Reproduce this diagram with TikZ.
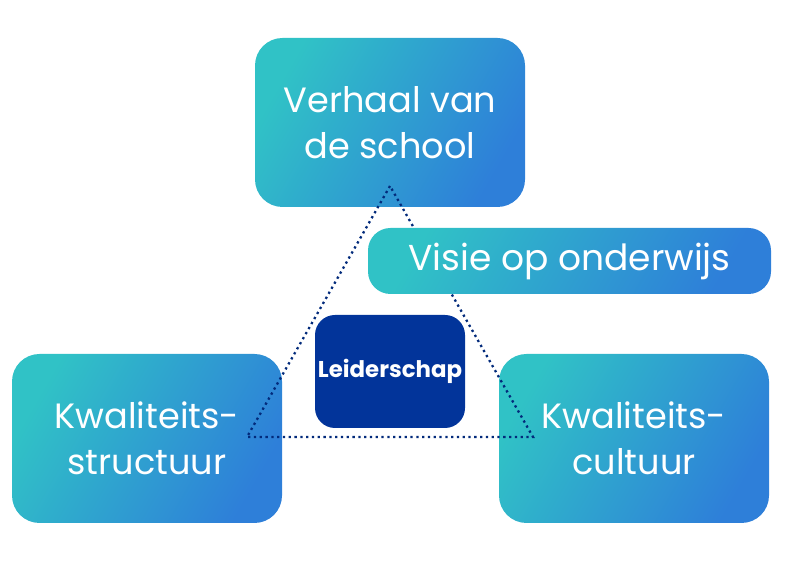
\documentclass[tikz,border=0pt]{standalone}
\usepackage{fontspec}
\setmainfont{Poppins}
\definecolor{tealc}{HTML}{30C2C6}
\definecolor{bluec}{HTML}{2E7FD9}
\definecolor{navyc}{HTML}{02349A}
\tikzset{
  pillar/.style={rounded corners=5.5mm, shading=axis, left color=tealc, right color=bluec,
    shading angle=60, text=white, font=\fontsize{20}{26}\selectfont, align=center,
    minimum width=5.4cm, minimum height=3.38cm, inner sep=0pt},
  core/.style={rounded corners=4mm, fill=navyc, text=white, font=\bfseries\fontsize{13}{15}\selectfont,
    minimum width=3cm, minimum height=2.26cm, inner sep=0pt}
}
\begin{document}
\begin{tikzpicture}
\useasboundingbox (0,0) rectangle (16,11.3);

\node[pillar] (story) at (7.8,8.85) {Verhaal van\\de school};
\node[pillar] (struct) at (2.94,2.53) {Kwaliteits-\\structuur};
\node[pillar] (cult) at (12.68,2.53) {Kwaliteits-\\cultuur};

% triangle
\coordinate (tA) at (7.8,7.58);
\coordinate (tB) at (4.94,2.56);
\coordinate (tC) at (10.66,2.56);
\draw[line width=1.3pt, dotted, navyc!80!black] (tA) -- (tB) -- (tC) -- cycle;

\node[pillar, minimum width=8.06cm, minimum height=1.32cm, rounded corners=4.5mm,
  font=\fontsize{20.5}{24}\selectfont] (vision) at (11.39,6.08) {Visie op onderwijs};
\node[core] (lead) at (7.8,3.87) {Leiderschap};
\end{tikzpicture}
\end{document}
